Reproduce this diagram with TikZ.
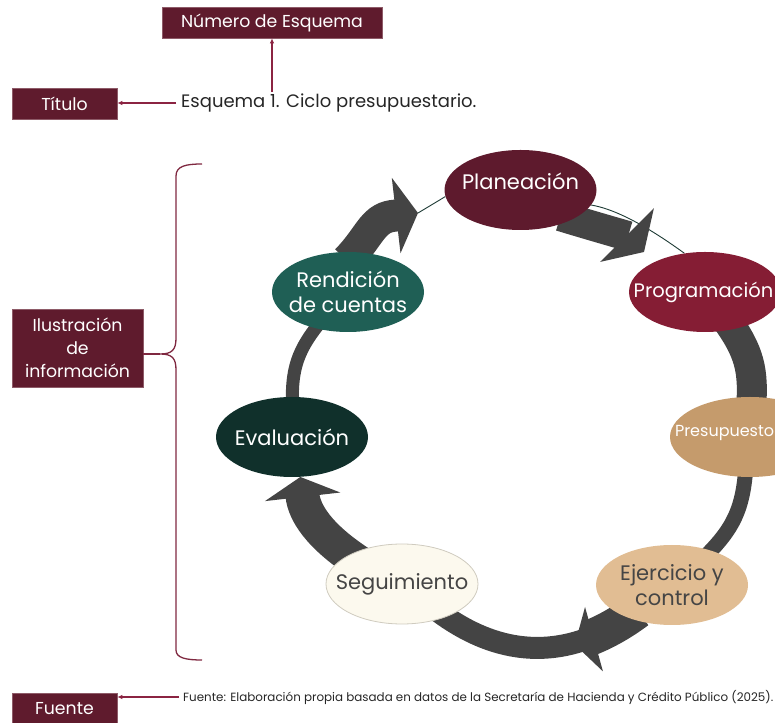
\documentclass[tikz,border=0pt]{standalone}
\usepackage{fontspec}
\setmainfont{Poppins}
\usetikzlibrary{arrows.meta,shapes.geometric,decorations.markings}
\definecolor{boxmaroon}{HTML}{5F1B2D}
\definecolor{boxedge}{HTML}{8E5B68}
\definecolor{ptrmaroon}{HTML}{8B2442}
\definecolor{bracecol}{HTML}{7F2840}
\definecolor{titlegray}{HTML}{262626}
\definecolor{arrowgray}{HTML}{444444}
\definecolor{thinline}{HTML}{1E3B35}
\definecolor{cPlan}{HTML}{5E1A2D}
\definecolor{cProg}{HTML}{851D34}
\definecolor{cPres}{HTML}{C59B6C}
\definecolor{cEjer}{HTML}{E1BD93}
\definecolor{cSegu}{HTML}{FCF9EE}
\definecolor{seguedge}{HTML}{CFCBBF}
\definecolor{cEval}{HTML}{10302B}
\definecolor{cRend}{HTML}{1F5F55}
\definecolor{darktext}{HTML}{454545}
\pgfdeclarelayer{bg}
\pgfsetlayers{bg,main}
\begin{document}
\begin{tikzpicture}[x=1pt,y=1pt,
  tag/.style={fill=boxmaroon, draw=boxedge, line width=0.6pt, text=white,
    font=\fontsize{17.3}{23}\selectfont, inner sep=0pt, align=center},
  stage/.style={ellipse, minimum width=152pt, minimum height=80pt, inner sep=0pt},
  lblw/.style={text=white, font=\fontsize{21}{25}\selectfont, inner sep=0pt, align=center},
  lbld/.style={text=darktext, font=\fontsize{21}{25}\selectfont, inner sep=0pt, align=center},
  ptr/.style={draw=ptrmaroon, line width=1.1pt, -{Latex[length=5pt,width=4.5pt]}},
  bracestyle/.style={draw=bracecol, line width=1.3pt},
  shaft/.style={draw=arrowgray, line width=#1, shorten <=-12pt},
  thinl/.style={draw=thinline, line width=0.9pt},
]
\useasboundingbox (0,0) rectangle (775,722);

% labels on the left
\node[tag, minimum width=220pt, minimum height=31pt] (num) at (272,699.5) {Número de Esquema};
\node[tag, minimum width=105pt, minimum height=31pt] (tit) at (64.5,618.5) {Título};
\node[tag, minimum width=131pt, minimum height=78pt] (ilus) at (77.5,374) {Ilustración\\de\\información};
\node[tag, minimum width=105pt, minimum height=31pt] (fue) at (64.5,13) {Fuente};

\node[anchor=west, font=\fontsize{18}{22}\selectfont, text=titlegray, inner sep=2pt] (esq) at (179,619) {Esquema 1. Ciclo presupuestario.};
\node[anchor=west, font=\fontsize{11.9}{14}\selectfont, text=titlegray, inner sep=1pt] (src) at (182,25) {Fuente: Elaboración propia basada en datos de la Secretaría de Hacienda y Crédito Público (2025).};

\draw[ptr] (esq.north -| num.south) -- (num.south);
\draw[ptr, shorten <=3pt] (esq.west) -- (esq.west -| tit.east);
\draw[ptr, shorten <=3pt] (src.west) -- (src.west -| fue.east);

% brace
\coordinate (btip) at (160,368);
\draw[bracestyle] (202,558) .. controls (186,558) and (176,556) .. (176,546) -- (176,384)
  .. controls (176,372) and (172,368) .. (btip)
  .. controls (172,368) and (176,364) .. (176,352) -- (176,72)
  .. controls (176,64) and (186,62) .. (202,62);
\draw[bracestyle] (btip) -- (btip -| ilus.east);

% cycle stages
\node[stage, fill=cPlan, label={[lblw, yshift=9pt]center:Planeación}] (plan) at (520.5,532) {};
\node[stage, fill=cProg, label={[lblw, font=\fontsize{19.5}{24}\selectfont, xshift=-1.5pt]center:Programación}] (prog) at (705,430) {};
\node[stage, fill=cPres, minimum width=160pt,
  label={[lblw, font=\fontsize{16}{19}\selectfont, anchor=west, xshift=5pt, yshift=4pt]west:Presupuesto}] (pres) at (750,285) {};
\node[stage, fill=cEjer, label={[lbld]center:Ejercicio y\\control}] (ejer) at (672,137) {};
\node[stage, fill=cSegu, draw=seguedge, line width=0.8pt, label={[lbld]center:Seguimiento}] (segu) at (402,138) {};
\node[stage, fill=cEval, label={[lblw]center:Evaluación}] (eval) at (292,285) {};
\node[stage, fill=cRend, label={[lblw]center:Rendición\\de cuentas}] (rend) at (348,430) {};

% free ends of the two upper arrowheads
\coordinate (tipA) at (418,509);
\coordinate (tipB) at (644,470);

% cycle arrows
\begin{pgfonlayer}{bg}
\draw[thinl] (tipA) -- (plan.185);
\draw[shaft=32pt, -{Triangle[length=22pt,width=75pt]}]
  (rend.80) .. controls (369,484) and (372,503) .. (392,506) -- (tipA);
\draw[thinl] (plan.-12) .. controls (620,512) and (655,490) .. (prog.118);
\draw[shaft=30pt, -{Triangle[length=24pt,width=75pt]}]
  (plan.-30) .. controls (596,495) and (628,486) .. (tipB);
\draw[shaft=30pt, shorten >=-12pt] (prog) to[bend left=20] (pres);
\draw[shaft=15pt, shorten >=-12pt] (pres) to[bend left=21] (ejer);
\draw[thinl] (ejer) to[bend left=37] (segu);
\draw[shaft=22pt, shorten >=-12pt, postaction={decorate},
  decoration={markings, mark=at position 60pt with {\arrow{Triangle[length=20pt,width=66pt]}}}]
  (ejer) to[bend left=37] (segu);
\draw[shaft=36pt, dash pattern=on 54pt off 2000pt] (ejer) to[bend left=37] (segu);
\draw[shaft=34pt, -{Triangle[length=20pt,width=75pt]}] (segu) to[bend left=25] (eval);
\draw[shaft=13pt, shorten >=-12pt] (eval) to[bend left=21] (rend);
\end{pgfonlayer}
\end{tikzpicture}
\end{document}
